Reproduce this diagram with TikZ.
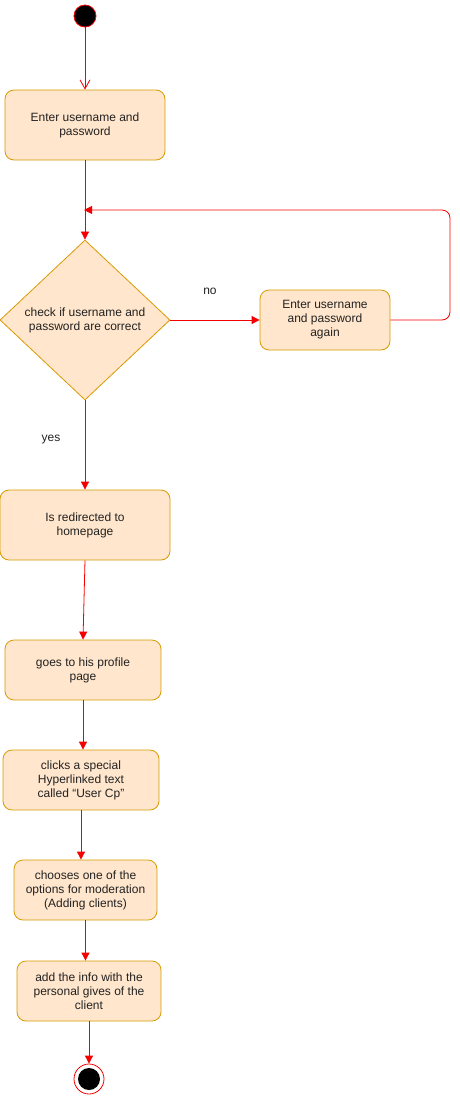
\documentclass[tikz,border=0pt]{standalone}
\usepackage{fontspec}
\setmainfont{Liberation Sans}
\usepackage{xcolor}
\usetikzlibrary{arrows.meta,shapes.geometric}
\definecolor{boxfill}{HTML}{FFE6CC}
\definecolor{boxline}{HTML}{D79B00}
\definecolor{flowred}{HTML}{F50000}
\definecolor{ink}{HTML}{222222}
\tikzset{
  act/.style={draw=boxline, fill=boxfill, rounded corners=9pt, line width=0.8pt,
    align=center, inner sep=0pt, text=ink, font=\fontsize{12}{14}\selectfont},
  check/.style={diamond, draw=boxline, fill=boxfill, line width=0.8pt, aspect=1,
    align=center, inner sep=0pt, text=ink, font=\fontsize{12}{14}\selectfont},
  flow/.style={draw=flowred, line width=0.8pt, -{Triangle[length=8pt,width=8pt]}},
  lbl/.style={text=ink, font=\fontsize{12}{14}\selectfont}
}

\begin{document}
\begin{tikzpicture}[x=1pt, y=-1pt]
\useasboundingbox (0,0) rectangle (459,1104);
% начало и конец
\node [circle, fill=black, draw=flowred, line width=0.8pt, minimum size=22pt, inner sep=0pt] (start) at (85,16) {};
\node [circle, draw=flowred, line width=0.8pt, minimum size=30pt, inner sep=0pt] (stop) at (89,1079) {};
\fill [black] (stop.center) circle [radius=11];
% действия
\node [act, minimum width=160pt, minimum height=70pt] (login) at (85,125) {Enter username and\\password};
\node [check, minimum width=170pt, minimum height=160pt] (verify) at (85,320) {check if username and\\password are correct};
\node [act, minimum width=130pt, minimum height=60pt] (retry) at (325,320) {Enter username\\and password\\again};
\node [act, minimum width=170pt, minimum height=70pt] (home) at (85,525) {Is redirected to\\homepage};
\node [act, minimum width=156pt, minimum height=60pt] (profile) at (83,670) {goes to his profile\\page};
\node [act, minimum width=156pt, minimum height=60pt] (usercp) at (81,780) {clicks a special\\Hyperlinked text\\called ``User Cp''};
\node [act, minimum width=143pt, minimum height=60pt] (choose) at (85.5,890) {chooses one of the\\options for moderation\\(Adding clients)};
\node [act, minimum width=144pt, minimum height=60pt] (addinfo) at (89,991) {add the info with the\\personal gives of the\\client};
% стрелки
\coordinate (merge) at (84,210);
\coordinate (loopa) at (450,320);
\coordinate (loopb) at (450,210);
\draw [draw=flowred, line width=0.8pt, -{Straight Barb[length=9pt,width=10pt]}] (start) -- (login);
\draw [flow] (login) -- (verify);
\draw [flow] (verify.east) -- (retry.west);
\draw [flow, rounded corners=8pt] (retry.east) -- (loopa) -- (loopb) -- (merge);
\draw [flow] (verify.south) -- (home.north);
\draw [flow] (home.south) -- (profile.north);
\draw [flow] (profile.south) -- (profile.south |- usercp.north);
\draw [flow] (usercp.south) -- (usercp.south |- choose.north);
\draw [flow] (choose.south) -- (choose.south |- addinfo.north);
\draw [flow] (addinfo.south) -- (stop);
% подписи
\node [lbl] (no) at (210,291) {no};
\node [lbl] (yes) at (51,440) {yes};
\end{tikzpicture}
\end{document}
